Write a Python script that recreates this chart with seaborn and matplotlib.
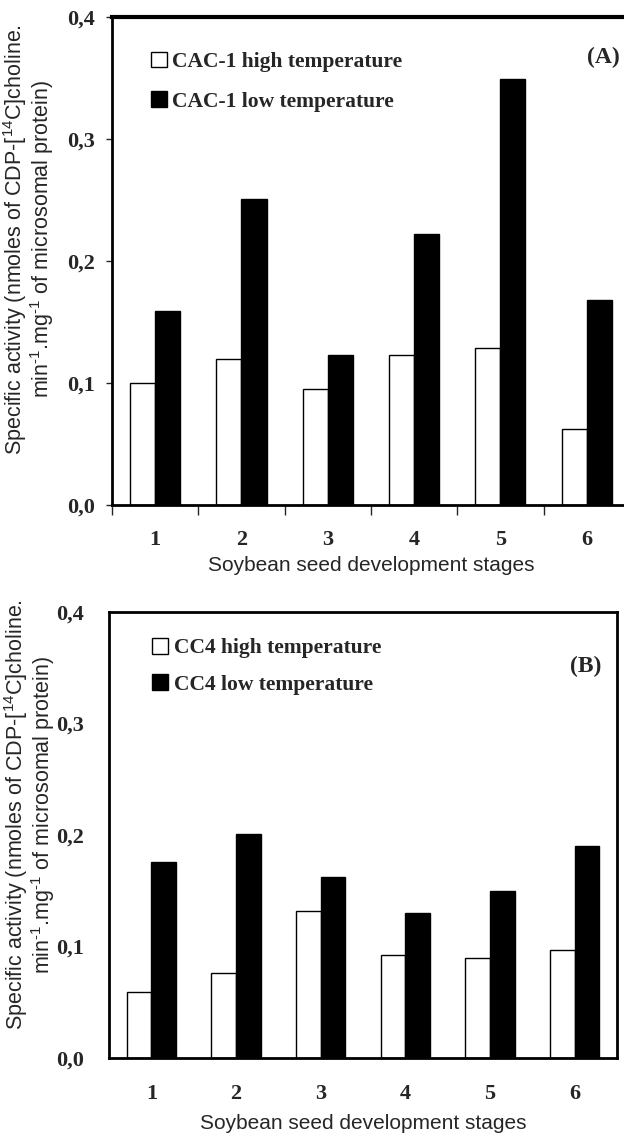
import numpy as np
import pandas as pd
import seaborn as sns
import matplotlib.pyplot as plt
from matplotlib.ticker import FixedLocator

stages = ["1", "2", "3", "4", "5", "6"]

cac1_high = [0.100, 0.120, 0.095, 0.123, 0.129, 0.062]
cac1_low = [0.159, 0.251, 0.123, 0.222, 0.349, 0.168]

cc4_high = [0.059, 0.076, 0.132, 0.092, 0.090, 0.097]
cc4_low = [0.176, 0.201, 0.162, 0.130, 0.150, 0.190]

y_ticks = [0.0, 0.1, 0.2, 0.3, 0.4]
y_tick_labels = ["0,0", "0,1", "0,2", "0,3", "0,4"]

ylabel = ("Specific activity (nmoles of CDP-[$^{14}$C]choline.\n"
          r"min$^{\text{-1}}$.mg$^{\text{-1}}$ of microsomal protein)")
xlabel = "Soybean seed development stages"


def long_table(high, low, high_name, low_name):
    return pd.DataFrame({
        "stage": stages * 2,
        "activity": high + low,
        "series": [high_name] * len(stages) + [low_name] * len(stages),
    })


sns.set_theme(style="white")
plt.rcParams["font.family"] = ["Liberation Sans", "DejaVu Sans"]
plt.rcParams["mathtext.fontset"] = "custom"
plt.rcParams["mathtext.rm"] = "Liberation Sans"
plt.rcParams["mathtext.it"] = "Liberation Sans:italic"
plt.rcParams["mathtext.default"] = "regular"
plt.rcParams["axes.unicode_minus"] = False

serif_bold = {"family": "Liberation Serif", "weight": "bold"}

fig = plt.figure(figsize=(6.24, 11.33), dpi=100)
ax_a = fig.add_axes([0.1795, 0.5543, 0.830, 0.4307])
ax_b = fig.add_axes([0.1747, 0.0662, 0.814, 0.3936])

# axes, data, tag, tag position, legend anchor, ylabel x, tick marks
panels = [
    (ax_a, long_table(cac1_high, cac1_low, "CAC-1 high temperature", "CAC-1 low temperature"),
     "(A)", (0.981, 0.918), (0.075, 0.929), -0.108, True),
    (ax_b, long_table(cc4_high, cc4_low, "CC4 high temperature", "CC4 low temperature"),
     "(B)", (0.969, 0.879), (0.085, 0.942), -0.102, False),
]

for ax, df, tag, tag_xy, leg_xy, ylab_x, ticks in panels:
    sns.barplot(data=df, x="stage", y="activity", hue="series",
                palette=["white", "black"], edgecolor="black", linewidth=1.0,
                width=0.58, ax=ax, errorbar=None)
    ax.set_xlim(-0.5, 5.5)
    ax.set_ylim(0, 0.4)
    ax.set_yticks(y_ticks)
    ax.set_yticklabels(y_tick_labels, fontdict=dict(serif_bold, size=16))
    for lab in ax.get_xticklabels():
        lab.set_fontfamily("Liberation Serif")
        lab.set_fontweight("bold")
        lab.set_fontsize(16)
    ax.set_xlabel(xlabel, fontsize=15, labelpad=4 if ticks else 7)
    ax.set_ylabel(ylabel, fontsize=15.5, linespacing=0.95)
    ax.yaxis.set_label_coords(ylab_x, 0.545)
    for side in ax.spines:
        ax.spines[side].set_color("black")
        ax.spines[side].set_linewidth(2.0)
    if ticks:
        ax.spines["top"].set_linewidth(3.0)
        ax.tick_params(axis="y", which="major", left=True, length=4, width=1, pad=8)
        ax.xaxis.set_minor_locator(FixedLocator(np.arange(-0.5, 6.0, 1.0)))
        ax.tick_params(axis="x", which="minor", bottom=True, length=7, width=1)
        ax.tick_params(axis="x", which="major", bottom=False, pad=12)
    else:
        ax.tick_params(axis="y", left=False, pad=12)
        ax.tick_params(axis="x", bottom=False, pad=13)
    ax.text(tag_xy[0], tag_xy[1], tag, transform=ax.transAxes, ha="right", va="center",
            fontdict=dict(serif_bold, size=17))
    sns.move_legend(ax, "upper left", bbox_to_anchor=leg_xy, frameon=False,
                    title=None, prop=dict(serif_bold, size=15.5),
                    handlelength=0.75, handleheight=0.75, handletextpad=0.25,
                    labelspacing=0.9 if ticks else 0.75, borderaxespad=0, borderpad=0)

fig.savefig("out.png", dpi=100)
